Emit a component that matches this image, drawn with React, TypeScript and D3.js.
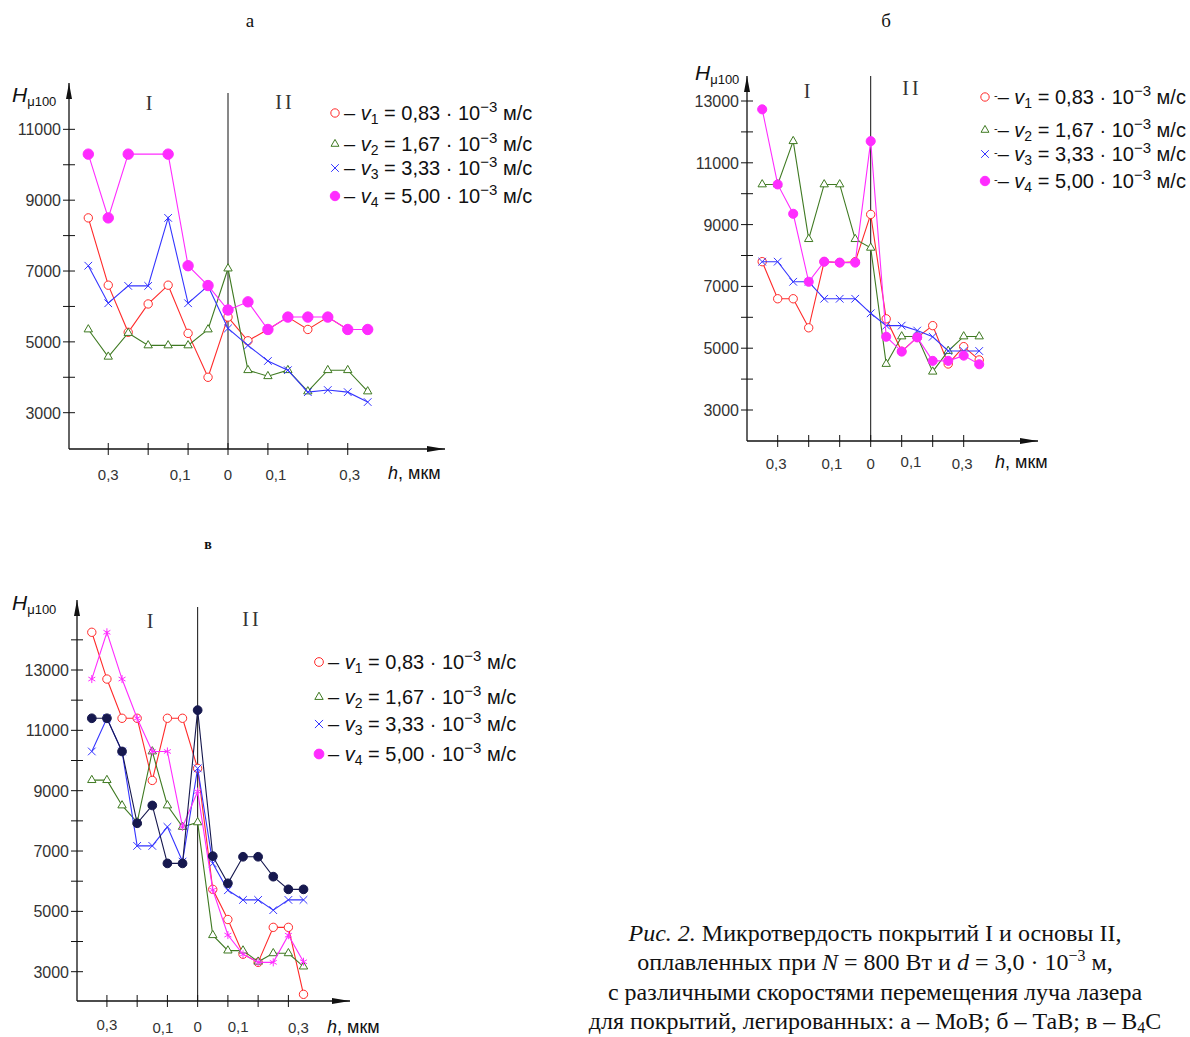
import React from 'react';
import * as d3 from 'd3';

// depth positions, мкм (I — coating, II — substrate)
const hPos = [-0.35, -0.3, -0.25, -0.2, -0.15, -0.1, -0.05, 0, 0.05, 0.1, 0.15, 0.2, 0.25, 0.3, 0.35];
const xTickVals = [-0.3, -0.2, -0.1, 0, 0.1, 0.2, 0.3];
const xTickLabels = ['0,3', '0,1', '0', '0,1', '0,3'];
const speeds = ['0,83', '1,67', '3,33', '5,00'];

// а — MoB
const aV1 = [8500, 6600, 5270, 6070, 6600, 5240, 4000, 5700, 5030, 5350, 5700, 5350, 5700, 5350, 5350];
const aV2 = [5350, 4580, 5250, 4900, 4900, 4900, 5350, 7070, 4200, 4030, 4200, 3600, 4200, 4200, 3600];
const aV3 = [7150, 6090, 6580, 6580, 8500, 6090, 6580, 5380, 4900, 4460, 4200, 3580, 3640, 3580, 3300];
const aV4 = [10300, 8500, 10300, null, 10300, 7150, 6590, 5900, 6130, 5350, 5700, 5700, 5700, 5350, 5350];
const aLabelPos = [-0.3, -0.12, 0, 0.12, 0.305];

// б — TaB
const bV1 = [7800, 6600, 6600, 5660, 7800, 7770, 7800, 9330, 5950, 4900, 5350, 5730, 4490, 5050, 4620];
const bV2 = [10300, 10300, 11700, 8530, 10300, 10300, 8530, 8250, 4490, 5380, 5380, 4240, 4910, 5380, 5380];
const bV3 = [7800, 7800, 7150, 7150, 6600, 6600, 6600, 6130, 5730, 5730, 5570, 5370, 4910, 4910, 4910];
const bV4 = [12730, 10300, 9350, 7150, 7800, 7770, 7770, 11700, 5370, 4890, 5350, 4590, 4590, 4760, 4480];
const bLabelPos = [-0.305, -0.125, 0, 0.13, 0.295];

// в — B4C
const cV1 = [14250, 12700, 11400, 11400, 9340, 11400, 11400, 9740, 5730, 4730, 3580, 3310, 4470, 4470, 2250];
const cV2 = [9350, 9350, 8510, 7950, 10300, 8510, 7800, 7950, 4210, 3700, 3700, 3330, 3610, 3610, 3170];
const cV3 = [10300, 11400, 10300, 7170, 7170, 7800, 6650, 9740, 6590, 5700, 5380, 5380, 5040, 5380, 5380];
const cV4 = [12700, 14250, 12700, 11400, 10300, 10300, 7800, 8970, 5710, 4215, 3575, 3310, 3310, 4210, 3330];
const cV5 = [11400, 11400, 10300, 7920, 8510, 6590, 6590, 11670, 6830, 5930, 6810, 6810, 6150, 5730, 5730];
const cLabelPos = [-0.3, -0.115, 0, 0.134, 0.333];

const RED = '#ff2a2a';
const GREEN = '#3f7a22';
const BLUE = '#3535ff';
const MAGENTA = '#ff2cff';
const NAVY = '#16184e';

const sans = "'Liberation Sans', Arial, sans-serif";
const serif = "'Liberation Serif', 'Times New Roman', serif";

const Marker = ({ type, color, x, y, size }) => {
  const shapes = {
    circle: d3.symbolCircle,
    triangle: d3.symbolTriangle2,
    x: d3.symbolX,
    dot: d3.symbolCircle,
    star: d3.symbolAsterisk,
  };
  const d = d3.symbol(shapes[type], size)();
  const filled = type === 'dot';
  const open = type === 'circle' || type === 'triangle';
  return (
    <path
      d={d}
      transform={`translate(${x},${y})`}
      fill={filled ? color : open ? '#fff' : 'none'}
      stroke={color}
      strokeWidth={1}
    />
  );
};

const LegendRow = ({ x, y, type, color, size, idx, dash }) => (
  <g>
    <Marker type={type} color={color} x={x} y={y} size={size} />
    <text x={x + 9} y={y + 7} fontFamily={sans} fontSize={20} fill="#111">
      {dash && <tspan fontSize={11} dy={-5}>-</tspan>}
      <tspan dy={dash ? 5 : 0}>– </tspan>
      <tspan fontStyle="italic">v</tspan>
      <tspan fontSize={14} dy={4}>{idx + 1}</tspan>
      <tspan dy={-4}> = {speeds[idx]} · 10</tspan>
      <tspan fontSize={15} dy={-8}>−3</tspan>
      <tspan dy={8}> м/с</tspan>
    </text>
  </g>
);

const Panel = ({ cfg }) => {
  const x = d3.scaleLinear().domain([-0.35, 0.35]).range(cfg.xRange);
  const y = d3.scaleLinear().domain([3000, 13000]).range(cfg.yRange);
  const yTicks = d3.range(cfg.yMin, cfg.yMax + 1, 1000);
  const yLabels = d3.range(3000, cfg.yMax + 1, 2000);
  const line = d3.line<[number, number]>().x(d => x(d[0])).y(d => y(d[1]));
  const ax = cfg.axisX;
  const ay = cfg.axisY;
  return (
    <g>
      {/* axes */}
      <line x1={ax} x2={ax} y1={cfg.topY} y2={ay} stroke="#111" strokeWidth={1.3} />
      <path d={`M${ax - 3},${cfg.topY + 16} L${ax},${cfg.topY} L${ax + 3},${cfg.topY + 16} Z`} fill="#111" />
      <line x1={ax} x2={cfg.rightX} y1={ay} y2={ay} stroke="#111" strokeWidth={1.3} />
      <path d={`M${cfg.rightX - 18},${ay - 3} L${cfg.rightX},${ay} L${cfg.rightX - 18},${ay + 3} Z`} fill="#111" />
      <line x1={x(0)} x2={x(0)} y1={cfg.zeroTop} y2={ay} stroke="#111" strokeWidth={1} />
      {yTicks.map(t => (
        <line key={`yt-${t}`} x1={ax - 6} x2={ax + 6} y1={y(t)} y2={y(t)} stroke="#111" strokeWidth={1} />
      ))}
      {yLabels.map(t => (
        <text key={`yl-${t}`} x={ax - 8} y={y(t) + 6} textAnchor="end" fontFamily={sans} fontSize={16} fill="#333">{t}</text>
      ))}
      {xTickVals.map(t => (
        <line key={`xt-${t}`} x1={x(t)} x2={x(t)} y1={ay - 6} y2={ay + 6} stroke="#111" strokeWidth={1} />
      ))}
      {cfg.labelPos.map((p, i) => (
        <text key={`xl-${i}`} x={x(p)} y={ay + cfg.labelDy[i]} textAnchor="middle" fontFamily={sans} fontSize={15} fill="#333">{xTickLabels[i]}</text>
      ))}
      <text x={cfg.hX} y={ay + cfg.hDy} fontFamily={sans} fontSize={18} fill="#111">
        <tspan fontStyle="italic">h</tspan>, мкм
      </text>
      <text x={cfg.hLabel[0]} y={cfg.hLabel[1]} fontFamily={sans} fontSize={21} fill="#111">
        <tspan fontStyle="italic">H</tspan>
        <tspan fontSize={13} dy={4}>μ100</tspan>
      </text>
      <text x={cfg.r1[0]} y={cfg.r1[1]} fontFamily={serif} fontSize={20} textAnchor="middle" fill="#333">I</text>
      <text x={cfg.r2[0]} y={cfg.r2[1]} fontFamily={serif} fontSize={20} textAnchor="middle" fill="#333" letterSpacing={3}>II</text>
      {/* series */}
      {cfg.series.map((s, si) => {
        const pts = hPos.map((h, i) => [h, s.values[i]]).filter(d => d[1] != null) as [number, number][];
        return (
          <g key={`s-${si}`}>
            <path d={line(pts)} fill="none" stroke={s.color} strokeWidth={1.1} />
            {pts.map((d, i) => (
              <Marker key={i} type={s.type} color={s.color} x={x(d[0])} y={y(d[1])} size={s.size} />
            ))}
          </g>
        );
      })}
      {/* legend */}
      {cfg.legend.rows.map((r, i) => (
        <LegendRow key={`lg-${i}`} x={cfg.legend.x} y={r} type={cfg.legend.types[i]} color={cfg.legend.colors[i]}
          size={cfg.legend.sizes[i]} idx={i} dash={cfg.legend.dash} />
      ))}
    </g>
  );
};

// y range is [y(3000), y(13000)] in pixels
const panelA = {
  xRange: [88.3, 367.7], yRange: [412.7, 58.5], yMin: 3000, yMax: 11000,
  axisX: 69, axisY: 449, topY: 83, rightX: 445, zeroTop: 93,
  labelPos: aLabelPos, labelDy: [31, 31, 31, 31, 31], hX: 388, hDy: 30,
  hLabel: [12, 102], r1: [149, 110], r2: [285, 109],
  series: [
    { values: aV1, color: RED, type: 'circle', size: 55 },
    { values: aV2, color: GREEN, type: 'triangle', size: 50 },
    { values: aV3, color: BLUE, type: 'x', size: 40 },
    { values: aV4, color: MAGENTA, type: 'dot', size: 85 },
  ],
  legend: { x: 335, rows: [113, 144, 168, 196], types: ['circle', 'triangle', 'x', 'dot'],
    colors: [RED, GREEN, BLUE, MAGENTA], sizes: [55, 45, 40, 70], dash: false },
};

const panelB = {
  xRange: [762.2, 979.2], yRange: [410, 101], yMin: 3000, yMax: 13000,
  axisX: 747, axisY: 441, topY: 76, rightX: 1038, zeroTop: 76,
  labelPos: bLabelPos, labelDy: [28, 28, 28, 26, 28], hX: 995, hDy: 27,
  hLabel: [695, 80], r1: [807, 98], r2: [912, 95],
  series: [
    { values: bV1, color: RED, type: 'circle', size: 55 },
    { values: bV2, color: GREEN, type: 'triangle', size: 50 },
    { values: bV3, color: BLUE, type: 'x', size: 40 },
    { values: bV4, color: MAGENTA, type: 'dot', size: 65 },
  ],
  legend: { x: 985, rows: [97, 130, 154, 181], types: ['circle', 'triangle', 'x', 'dot'],
    colors: [RED, GREEN, BLUE, MAGENTA], sizes: [55, 45, 40, 70], dash: true },
};

const panelC = {
  xRange: [91.8, 303.5], yRange: [971.7, 670], yMin: 3000, yMax: 14000,
  axisX: 77, axisY: 1001, topY: 600, rightX: 350, zeroTop: 607,
  labelPos: cLabelPos, labelDy: [29, 32, 31, 31, 32], hX: 327, hDy: 32,
  hLabel: [12, 610], r1: [150, 628], r2: [252, 626],
  series: [
    { values: cV1, color: RED, type: 'circle', size: 55 },
    { values: cV2, color: GREEN, type: 'triangle', size: 50 },
    { values: cV3, color: BLUE, type: 'x', size: 40 },
    { values: cV4, color: MAGENTA, type: 'star', size: 45 },
    { values: cV5, color: NAVY, type: 'dot', size: 60 },
  ],
  legend: { x: 319, rows: [662, 697, 724, 754], types: ['circle', 'triangle', 'x', 'dot'],
    colors: [RED, GREEN, BLUE, MAGENTA], sizes: [60, 50, 45, 75], dash: false },
};

const App = () => (
  <svg width={1190} height={1037} viewBox="0 0 1190 1037"
    style={{ position: 'absolute', left: 0, top: 0, background: '#fff' }}>
    <text x={250} y={27} textAnchor="middle" fontFamily={serif} fontSize={19} fill="#111">а</text>
    <text x={886} y={27} textAnchor="middle" fontFamily={serif} fontSize={19} fill="#111">б</text>
    <text x={208} y={549} textAnchor="middle" fontFamily={serif} fontSize={14} fontWeight="bold" fill="#111">в</text>
    <Panel cfg={panelA} />
    <Panel cfg={panelB} />
    <Panel cfg={panelC} />
    <g fontFamily={serif} fontSize={24} fill="#111" textAnchor="middle">
      <text x={875} y={941}><tspan fontStyle="italic">Рис. 2.</tspan> Микротвердость покрытий I и основы II,</text>
      <text x={875} y={970}>оплавленных при <tspan fontStyle="italic">N</tspan> = 800 Вт и <tspan fontStyle="italic">d</tspan> = 3,0 · 10<tspan fontSize={16} dy={-9}>−3</tspan><tspan dy={9}> м,</tspan></text>
      <text x={875} y={1000}>с различными скоростями перемещения луча лазера</text>
      <text x={875} y={1029}>для покрытий, легированных: а – МоВ; б – ТаВ; в – В<tspan fontSize={16} dy={4}>4</tspan><tspan dy={-4}>С</tspan></text>
    </g>
  </svg>
);

export default App;
